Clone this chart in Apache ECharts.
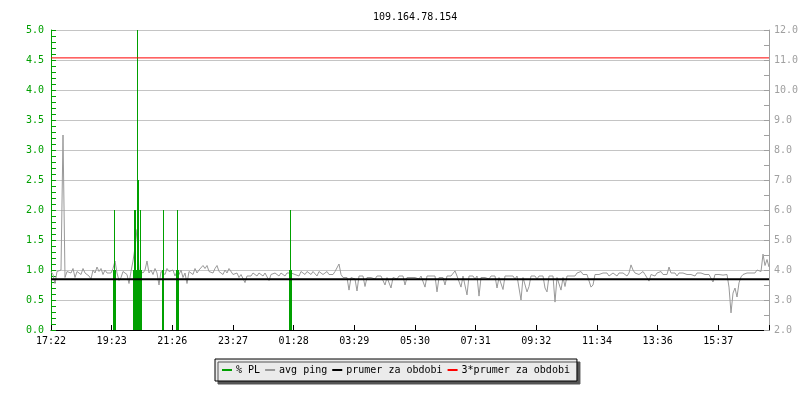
<!DOCTYPE html>
<html><head><meta charset="utf-8">
<script src="https://cdn.jsdelivr.net/npm/echarts@6/dist/echarts.min.js"></script>
<style>html,body{margin:0;padding:0;background:#fff}#c{width:800px;height:400px}</style>
</head><body><div id="c"></div>
<script>
const chartTitle = '109.164.78.154';
const tickLabels = ['17:22','19:23','21:26','23:27','01:28','03:29','05:30','07:31','09:32','11:34','13:36','15:37'];
const spanMinutes = 1436;
const tickStepMinutes = 364 / 3;
const pingStepMinutes = 4;
const seriesNames = ['% PL', 'avg ping', 'prumer za obdobi', '3*prumer za obdobi'];

// avg ping (ms, right axis), one sample every 4 minutes from 17:22
const avgPing = [
  3.95,3.85,3.55,3.95,3.9,4.0,8.5,3.75,3.95,4.0,
  3.9,4.05,3.75,3.95,4.0,3.85,4.05,3.9,3.95,3.8,
  3.7,4.0,3.9,4.1,3.95,4.05,3.85,4.0,3.9,3.95,
  3.9,4.05,4.3,3.9,3.65,3.75,3.95,4.0,3.85,3.55,
  3.95,4.3,4.75,5.35,4.0,4.05,3.9,4.0,4.3,3.9,
  4.0,3.85,4.05,3.9,3.5,3.95,4.0,3.85,4.05,3.95,
  3.9,4.0,3.8,3.95,3.85,4.0,3.75,3.9,3.55,3.95,
  4.0,3.85,4.05,3.9,4.0,3.95,4.15,4.05,4.15,3.95,
  4.0,3.9,4.05,4.15,3.95,4.0,3.85,4.0,3.9,4.05,
  4.05,3.85,3.8,3.9,3.75,3.85,3.8,3.58,3.8,3.85,
  3.8,3.9,3.85,3.8,3.9,3.85,3.8,3.9,3.85,3.65,
  3.85,3.8,3.9,3.85,3.8,3.9,3.85,3.8,3.9,3.85,
  3.9,3.95,3.85,3.9,3.8,3.95,3.9,3.85,3.95,3.9,
  3.85,3.95,3.9,3.8,3.95,3.9,3.85,3.9,3.95,3.85,
  3.9,3.85,3.95,3.9,4.2,3.85,3.75,3.8,3.75,3.33,
  3.75,3.8,3.7,3.3,3.8,3.75,3.8,3.45,3.75,3.8,
  3.75,3.8,3.7,3.8,3.75,3.8,3.8,3.5,3.75,3.8,
  3.4,3.75,3.8,3.7,3.8,3.75,3.8,3.5,3.75,3.8,
  3.75,3.8,3.75,3.8,3.7,3.8,3.75,3.43,3.8,3.75,
  3.8,3.75,3.8,3.27,3.75,3.8,3.75,3.5,3.8,3.75,
  3.8,3.85,3.97,3.8,3.75,3.43,3.8,3.75,3.17,3.8,
  3.75,3.8,3.7,3.8,3.13,3.75,3.8,3.75,3.8,3.7,
  3.8,3.75,3.8,3.4,3.75,3.8,3.35,3.8,3.75,3.8,
  3.75,3.8,3.7,3.8,3.75,3.0,3.75,3.8,3.27,3.45,
  3.8,3.75,3.8,3.7,3.8,3.75,3.8,3.4,3.27,3.8,
  3.75,3.8,2.93,3.75,3.8,3.33,3.75,3.45,3.8,3.75,
  3.8,3.85,3.8,3.9,3.85,3.95,3.85,3.9,3.85,3.8,
  3.43,3.5,3.85,3.9,3.85,3.8,3.9,3.85,3.9,3.8,
  3.85,3.9,3.85,3.8,3.9,3.85,3.9,3.85,3.8,3.9,
  4.17,4.0,3.9,3.95,3.85,3.9,3.95,3.85,3.9,3.63,
  3.85,3.9,3.8,3.9,3.85,3.95,3.85,3.9,3.85,4.1,
  3.9,3.85,3.9,3.8,3.9,3.85,3.9,3.95,3.85,3.9,
  3.85,3.9,3.8,3.9,3.85,3.9,3.95,3.85,3.9,3.85,
  3.9,3.6,3.85,3.9,3.85,3.85,3.83,3.8,3.85,3.43,
  2.57,3.23,3.4,3.1,3.57,3.77,3.85,3.8,3.9,3.85,
  3.9,3.95,3.9,4.0,4.05,3.95,4.53,4.15,4.35,4.1
];

// packet loss (%, left axis): minutes since 17:22 and values
const plMinutes = [124,126,128, 164,166,168,170,172,174,176,178,180, 222,224, 250,252,254, 476,478,480];
const plValues  = [1.0,2.0,1.0, 1.0,2.0,2.0,1.0,5.0,2.5,1.0,2.0,1.0, 1.0,2.0, 1.0,2.0,1.0, 1.0,2.0,1.0];

const prumer = 3.69;
const triplePrumer = 11.07;

const FONT = 'DejaVu Sans Mono';
const GREEN = '#00a000';
const GRAY = '#999999';

const chart = echarts.init(document.getElementById('c'), null, {renderer: 'canvas'});
chart.setOption({
  animation: false,
  backgroundColor: '#ffffff',
  title: {
    text: chartTitle, left: 368, top: 7,
    textStyle: {fontFamily: FONT, fontSize: 10, fontWeight: 'normal', color: '#000'}
  },
  legend: {
    data: seriesNames, left: 215, top: 359, orient: 'horizontal',
    icon: 'rect', itemWidth: 10, itemHeight: 2, itemGap: 5,
    padding: [6, 7, 6, 7],
    backgroundColor: '#ebebeb', borderColor: '#000', borderWidth: 1,
    shadowColor: '#555', shadowOffsetX: 3, shadowOffsetY: 3, shadowBlur: 0,
    selectedMode: false,
    textStyle: {fontFamily: FONT, fontSize: 10, color: '#000', padding: [0, 0, 0, -1]}
  },
  grid: {left: 51, right: 31, top: 30, bottom: 70, containLabel: false, outerBoundsMode: 'none'},
  xAxis: {
    type: 'value', min: 0, max: spanMinutes, interval: tickStepMinutes,
    axisLine: {onZero: false, lineStyle: {color: '#000', width: 1}},
    axisTick: {inside: true, length: 5, lineStyle: {color: '#000'}},
    splitLine: {show: false},
    axisLabel: {
      fontFamily: FONT, fontSize: 10, color: '#000', margin: 6,
      formatter: function (v) {
        const k = v / tickStepMinutes;
        if (Math.abs(k - Math.round(k)) > 0.01) return '';
        return tickLabels[Math.round(k)] || '';
      }
    }
  },
  yAxis: [{
    type: 'value', min: 0, max: 5, interval: 0.5, position: 'left',
    axisLine: {show: true, onZero: false, lineStyle: {color: GREEN}},
    axisTick: {show: true, inside: true, length: 5, lineStyle: {color: GREEN}},
    minorTick: {show: true, splitNumber: 5, length: 5, lineStyle: {color: GREEN}},
    splitLine: {show: true, lineStyle: {color: '#c4c4c4', width: 1}},
    axisLabel: {fontFamily: FONT, fontSize: 10, color: GREEN, margin: 7, formatter: v => v.toFixed(1)}
  }, {
    type: 'value', min: 2, max: 12, interval: 1, position: 'right',
    axisLine: {show: true, onZero: false, lineStyle: {color: '#a0a0a0'}},
    axisTick: {show: true, inside: true, length: 5, lineStyle: {color: '#a0a0a0'}},
    minorTick: {show: true, splitNumber: 2, length: 5, lineStyle: {color: '#a0a0a0'}},
    splitLine: {show: false},
    axisLabel: {fontFamily: FONT, fontSize: 10, color: '#a0a0a0', margin: 5, formatter: v => v.toFixed(1)}
  }],
  series: [{
    name: seriesNames[1], type: 'line', yAxisIndex: 1, z: 2,
    data: avgPing.map((v, i) => [i * pingStepMinutes, v]),
    showSymbol: false, symbol: 'none', color: GRAY,
    lineStyle: {color: GRAY, width: 1}
  }, {
    name: seriesNames[0], type: 'custom', yAxisIndex: 0, z: 3,
    data: plMinutes.map((m, i) => [m, plValues[i]]),
    color: GREEN, itemStyle: {color: GREEN},
    encode: {x: 0, y: 1},
    renderItem: function (params, api) {
      const top = api.coord([api.value(0), api.value(1)]);
      const base = api.coord([api.value(0), 0]);
      const x = Math.floor(top[0]);
      const yTop = Math.round(Math.max(top[1], params.coordSys.y));
      return {
        type: 'rect',
        shape: {x: x, y: yTop, width: 1, height: Math.round(base[1]) - yTop},
        style: {fill: GREEN}
      };
    }
  }, {
    name: seriesNames[2], type: 'line', yAxisIndex: 1, z: 4,
    data: [[0, prumer], [spanMinutes, prumer]],
    showSymbol: false, symbol: 'none', color: '#000',
    lineStyle: {color: '#000', width: 2}
  }, {
    name: seriesNames[3], type: 'line', yAxisIndex: 1, z: 4,
    data: [[0, triplePrumer], [spanMinutes, triplePrumer]],
    showSymbol: false, symbol: 'none', color: '#ff0000',
    lineStyle: {color: '#ff0000', width: 1}
  }]
});
</script>
</body></html>
